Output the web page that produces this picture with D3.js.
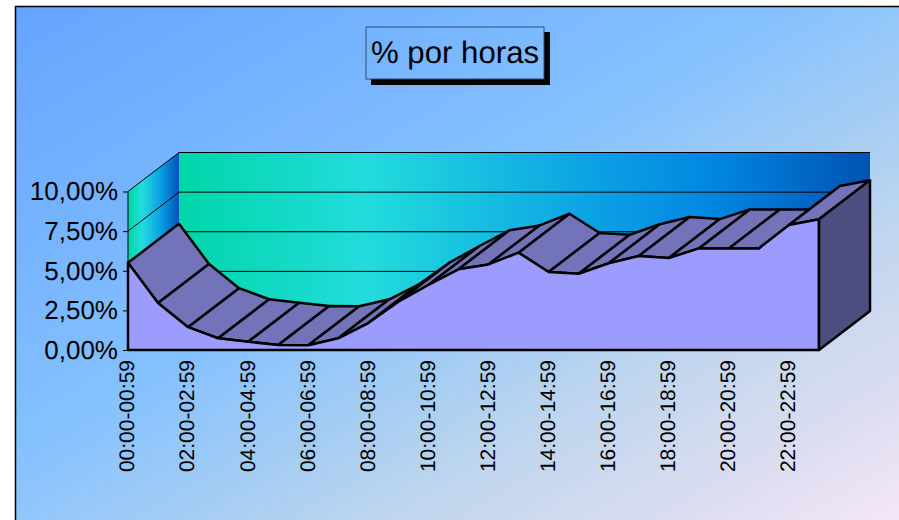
<!DOCTYPE html>
<html>
<head>
<meta charset="utf-8">
<script src="https://cdn.jsdelivr.net/npm/d3@7"></script>
<style>
  body { margin: 0; background: #fff; }
  text { font-family: "Liberation Sans", Arial, sans-serif; fill: #000; text-rendering: geometricPrecision; }
</style>
</head>
<body>
<svg id="chart" width="899" height="520" style="display:block"></svg>
<script>
const categories = [
  "00:00-00:59", "01:00-01:59", "02:00-02:59", "03:00-03:59", "04:00-04:59", "05:00-05:59",
  "06:00-06:59", "07:00-07:59", "08:00-08:59", "09:00-09:59", "10:00-10:59", "11:00-11:59",
  "12:00-12:59", "13:00-13:59", "14:00-14:59", "15:00-15:59", "16:00-16:59", "17:00-17:59",
  "18:00-18:59", "19:00-19:59", "20:00-20:59", "21:00-21:59", "22:00-22:59", "23:00-23:59"
];
const percent = [
  5.5, 2.96, 1.44, 0.74, 0.52, 0.32, 0.3, 0.74, 1.7, 3.05, 4.1, 5.09,
  5.4, 6.14, 4.92, 4.81, 5.47, 5.93, 5.8, 6.41, 6.41, 6.41, 7.89, 8.25
];
const yTicks = [0, 2.5, 5, 7.5, 10];
const xLabels = categories.filter((d, i) => i % 2 === 0);

const width = 899, height = 520;
const depthX = 51, depthY = -39; // offset of the back wall

const svg = d3.select("#chart");
const defs = svg.append("defs");

function gradient(id, stops, x2, y2) {
  const g = defs.append("linearGradient").attr("id", id)
    .attr("x1", 0).attr("y1", 0).attr("x2", x2).attr("y2", y2);
  stops.forEach(s => g.append("stop").attr("offset", s[0]).attr("stop-color", s[1]));
}
gradient("bg", [[0, "#66a3ff"], [0.42, "#84c1ff"], [0.58, "#a5cdf3"], [0.68, "#bdd5ee"], [0.85, "#dcddf0"], [1, "#fbe9fb"]], 1, 1);
gradient("backWall", [[0, "#00d6a8"], [0.27, "#22dcdc"], [0.62, "#0a9ee4"], [0.78, "#0086e0"], [1, "#0052b2"]], 1, 0);
gradient("sideWall", [[0, "#00d6a8"], [0.28, "#22dcdc"], [0.65, "#0a9ee4"], [1, "#0052b8"]], 1, 0);

defs.append("clipPath").attr("id", "titleClip")
  .append("rect").attr("x", 366).attr("y", 27).attr("width", 178).attr("height", 52);

const x = d3.scalePoint().domain(categories).range([128, 819]);
const y = d3.scaleLinear().domain([0, 10]).range([350, 191.5]);
const xEnd = x.range()[1];
const line = d3.line();

// chart frame
svg.append("rect")
  .attr("x", 15.5).attr("y", 6.5)
  .attr("width", width + 10).attr("height", height + 10)
  .attr("fill", "url(#bg)")
  .attr("stroke", "#000").attr("stroke-width", 1.5);

// title, shadow first then the box
svg.append("rect").attr("x", 371).attr("y", 32).attr("width", 179).attr("height", 53).attr("fill", "#000");
svg.append("rect")
  .attr("x", 15.5).attr("y", 6.5)
  .attr("width", width + 10).attr("height", height + 10)
  .attr("fill", "url(#bg)")
  .attr("clip-path", "url(#titleClip)");
svg.append("rect")
  .attr("x", 366).attr("y", 27).attr("width", 178).attr("height", 52)
  .attr("fill", "none").attr("stroke", "#2f4f78").attr("stroke-width", 1);
svg.append("text")
  .attr("x", 455).attr("y", 63)
  .attr("text-anchor", "middle")
  .attr("font-size", 31.2)
  .text("% por horas");

// walls
svg.append("path")
  .attr("d", line([[x.range()[0] + depthX, y(10) + depthY], [xEnd + depthX, y(10) + depthY],
                   [xEnd + depthX, y(0) + depthY], [x.range()[0] + depthX, y(0) + depthY]]) + "Z")
  .attr("fill", "url(#backWall)");
svg.append("path")
  .attr("d", line([[x.range()[0], y(10)], [x.range()[0] + depthX, y(10) + depthY],
                   [x.range()[0] + depthX, y(0) + depthY], [x.range()[0], y(0)]]) + "Z")
  .attr("fill", "url(#sideWall)");

// gridlines on both walls
yTicks.forEach(t => {
  svg.append("path")
    .attr("d", line([[x.range()[0], y(t)], [x.range()[0] + depthX, y(t) + depthY], [xEnd + depthX, y(t) + depthY]]))
    .attr("fill", "none").attr("stroke", "#000").attr("stroke-width", 1);
});
svg.append("line")
  .attr("x1", x.range()[0]).attr("x2", x.range()[0])
  .attr("y1", y(10)).attr("y2", y(0))
  .attr("stroke", "#000").attr("stroke-width", 1);

// top ribbon of the area, one quad per interval
svg.append("g").selectAll("path")
  .data(d3.pairs(categories.map((c, i) => [x(c), y(percent[i])])))
  .join("path")
  .attr("d", d => line([d[0], d[1], [d[1][0] + depthX, d[1][1] + depthY], [d[0][0] + depthX, d[0][1] + depthY]]) + "Z")
  .attr("fill", "#7373b9")
  .attr("stroke", "#000").attr("stroke-width", 2.5).attr("stroke-linejoin", "round");

// front face
const area = d3.area()
  .x((d, i) => x(categories[i]))
  .y0(y(0))
  .y1(d => y(d));
svg.append("path")
  .attr("d", area(percent))
  .attr("fill", "#9c9cff")
  .attr("stroke", "#000").attr("stroke-width", 2.5).attr("stroke-linejoin", "round");

// right end of the area
const last = percent[percent.length - 1];
svg.append("path")
  .attr("d", line([[xEnd, y(last)], [xEnd + depthX, y(last) + depthY], [xEnd + depthX, y(0) + depthY], [xEnd, y(0)]]) + "Z")
  .attr("fill", "#4d4d80")
  .attr("stroke", "#000").attr("stroke-width", 2.5).attr("stroke-linejoin", "round");

// axes
const yAxis = svg.append("g")
  .attr("transform", "translate(" + x.range()[0] + ",0)")
  .call(d3.axisLeft(y).tickValues(yTicks).tickSize(5).tickPadding(5)
    .tickFormat(d => d3.format(".2f")(d).replace(".", ",") + "%"));
yAxis.select(".domain").remove();
yAxis.selectAll("text").attr("font-size", 26).attr("font-family", "Liberation Sans");
yAxis.selectAll("line").attr("stroke", "#000");

const xAxis = svg.append("g")
  .attr("transform", "translate(-1.5," + y(0) + ")")
  .call(d3.axisBottom(x).tickValues(xLabels).tickSize(0));
xAxis.select(".domain").remove();
xAxis.selectAll("text")
  .attr("font-size", 21).attr("font-family", "Liberation Sans")
  .attr("text-anchor", "end")
  .attr("transform", "rotate(-90)")
  .attr("x", -10).attr("y", 0).attr("dy", "0.35em");
</script>
</body>
</html>
